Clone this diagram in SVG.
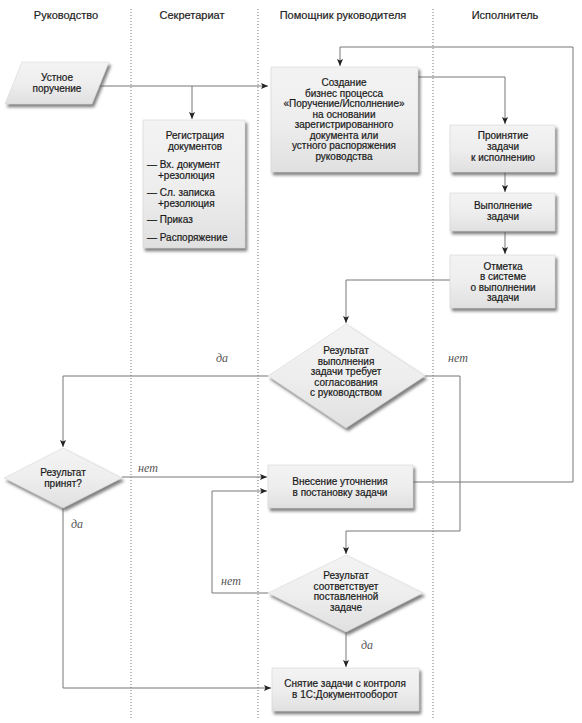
<svg xmlns="http://www.w3.org/2000/svg" width="582" height="723" viewBox="0 0 582 723">
<defs>
<linearGradient id="g" x1="0" y1="0" x2="0" y2="1">
<stop offset="0" stop-color="#f3f3f3"/>
<stop offset="0.5" stop-color="#eeeeee"/>
<stop offset="1" stop-color="#e0e0e0"/>
</linearGradient>
<filter id="sh" x="-10%" y="-10%" width="125%" height="130%">
<feDropShadow dx="2" dy="3" stdDeviation="1.5" flood-color="#555" flood-opacity="0.75"/>
</filter>
<marker id="ar" markerUnits="userSpaceOnUse" markerWidth="8" markerHeight="8" refX="7" refY="4" orient="auto">
<path d="M0,1 L7,4 L0,7 L1.5,4 Z" fill="#222"/>
</marker>
</defs>
<style>
.hd{font-family:"Liberation Sans",Arial,sans-serif;font-size:11px;fill:#222;stroke:#222;stroke-width:0.2;text-anchor:middle}
.t{font-family:"Liberation Sans",Arial,sans-serif;font-size:10px;fill:#1a1a1a;stroke:#1a1a1a;stroke-width:0.2;text-anchor:middle}
.tl{font-family:"Liberation Sans",Arial,sans-serif;font-size:10px;fill:#1a1a1a;stroke:#1a1a1a;stroke-width:0.2}
.lb{font-family:"Liberation Serif","Times New Roman",serif;font-style:italic;font-size:12px;fill:#555;text-anchor:middle}
.sh{fill:url(#g);stroke:#d0d0d0;stroke-width:0.5;filter:url(#sh)}
.div{stroke:#777;stroke-width:1;stroke-dasharray:1 2}
.c{fill:none;stroke:#777;stroke-width:1}
.ca{fill:none;stroke:#777;stroke-width:1;marker-end:url(#ar)}
</style>
<rect width="582" height="723" fill="#ffffff"/>
<g id="lanes">
<line class="div" x1="131" y1="9" x2="131" y2="720"/>
<line class="div" x1="258" y1="9" x2="258" y2="720"/>
<line class="div" x1="433" y1="9" x2="433" y2="720"/>
<text class="hd" x="66" y="19">Руководство</text>
<text class="hd" x="192" y="19">Секретариат</text>
<text class="hd" x="343" y="19">Помощник руководителя</text>
<text class="hd" x="505" y="19">Исполнитель</text>
</g>
<g id="connectors">
<path class="ca" d="M99,86 H268"/>
<path class="ca" d="M192,86 V119"/>
<path class="ca" d="M413,482 H573 V47 H340 V66"/>
<path class="ca" d="M418,77 H505 V124"/>
<path class="ca" d="M505,172 V192"/>
<path class="ca" d="M505,232 V254"/>
<path class="ca" d="M450,280 H346 V323"/>
<path class="ca" d="M268,376 H63 V447"/>
<path class="ca" d="M425,376 H460 V531 H346 V554"/>
<path class="ca" d="M122,477 H267"/>
<path class="ca" d="M268,593 H212 V491 H267"/>
<path class="ca" d="M63,508 V688 H271"/>
<path class="ca" d="M346,632 V667"/>
<text class="lb" x="222" y="362">да</text>
<text class="lb" x="458" y="362">нет</text>
<text class="lb" x="148" y="472">нет</text>
<text class="lb" x="231" y="585">нет</text>
<text class="lb" x="77" y="528">да</text>
<text class="lb" x="367" y="649">да</text>
</g>
<g id="oral">
<path class="sh" d="M22,62 H109 L92,104 H5 Z"/>
<text class="t" x="57" y="81">Устное</text>
<text class="t" x="57" y="92">поручение</text>
</g>
<g id="registration">
<rect class="sh" x="143" y="120" width="102" height="128"/>
<text class="t" x="195" y="139">Регистрация</text>
<text class="t" x="195" y="149.5">документов</text>
<text class="tl" x="147" y="168">— Вх. документ</text>
<text class="tl" x="158" y="178.5">+резолюция</text>
<text class="tl" x="147" y="196">— Сл. записка</text>
<text class="tl" x="158" y="206.5">+резолюция</text>
<text class="tl" x="147" y="223">— Приказ</text>
<text class="tl" x="147" y="241">— Распоряжение</text>
</g>
<g id="create">
<rect class="sh" x="271" y="67" width="147" height="105"/>
<text class="t" x="344" y="86">Создание</text>
<text class="t" x="344" y="96.5">бизнес процесса</text>
<text class="t" x="344" y="107">«Поручение/Исполнение»</text>
<text class="t" x="344" y="117.5">на основании</text>
<text class="t" x="344" y="128">зарегистрированного</text>
<text class="t" x="344" y="138.5">документа или</text>
<text class="t" x="344" y="149">устного распоряжения</text>
<text class="t" x="344" y="159.5">руководства</text>
</g>
<g id="accept">
<rect class="sh" x="450" y="125" width="105" height="47"/>
<text class="t" x="503" y="139">Проинятие</text>
<text class="t" x="503" y="150">задачи</text>
<text class="t" x="503" y="161">к исполнению</text>
</g>
<g id="execute">
<rect class="sh" x="450" y="193" width="105" height="38"/>
<text class="t" x="503" y="209">Выполнение</text>
<text class="t" x="503" y="220">задачи</text>
</g>
<g id="mark">
<rect class="sh" x="450" y="255" width="105" height="53"/>
<text class="t" x="503" y="269.5">Отметка</text>
<text class="t" x="503" y="280">в системе</text>
<text class="t" x="503" y="290.5">о выполнении</text>
<text class="t" x="503" y="301">задачи</text>
</g>
<g id="decision1">
<path class="sh" d="M346,324 L425,376 L346,428 L268,376 Z"/>
<text class="t" x="346" y="354">Результат</text>
<text class="t" x="346" y="364.5">выполнения</text>
<text class="t" x="346" y="375">задачи требует</text>
<text class="t" x="346" y="385.5">согласования</text>
<text class="t" x="346" y="396">с руководством</text>
</g>
<g id="decision2">
<path class="sh" d="M63,448 L122,478 L63,508 L4,478 Z"/>
<text class="t" x="63" y="476">Результат</text>
<text class="t" x="63" y="487">принят?</text>
</g>
<g id="refine">
<rect class="sh" x="268" y="465" width="145" height="43"/>
<text class="t" x="340" y="485">Внесение уточнения</text>
<text class="t" x="340" y="496">в постановку задачи</text>
</g>
<g id="decision3">
<path class="sh" d="M346,555 L423,593 L346,632 L268,593 Z"/>
<text class="t" x="346" y="579">Результат</text>
<text class="t" x="346" y="589.5">соответствует</text>
<text class="t" x="346" y="600">поставленной</text>
<text class="t" x="346" y="610.5">задаче</text>
</g>
<g id="close">
<rect class="sh" x="272" y="668" width="147" height="43"/>
<text class="t" x="345" y="687">Снятие задачи с контроля</text>
<text class="t" x="345" y="698">в 1С:Документооборот</text>
</g>
</svg>
